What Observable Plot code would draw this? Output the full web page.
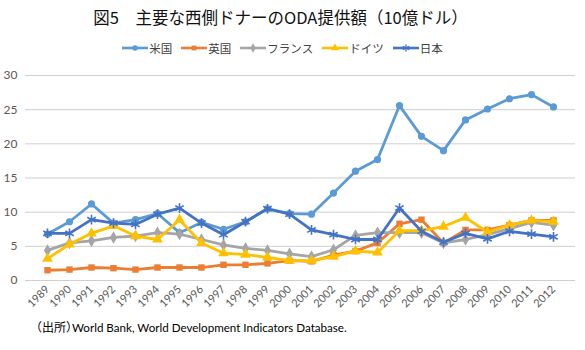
<!DOCTYPE html>
<html><head><meta charset="utf-8">
<script src="https://cdn.jsdelivr.net/npm/d3@7"></script>
<script src="https://cdn.jsdelivr.net/npm/@observablehq/plot@0.6"></script>
<style>
body{margin:0;background:#fff;width:585px;height:350px;overflow:hidden;font-family:"Noto Sans CJK JP",sans-serif;}
#title{height:34px;line-height:34px;text-align:center;font-size:16.5px;color:#111;padding-right:24px;white-space:nowrap}
#legend{height:28px;display:flex;justify-content:center;align-items:center;gap:9px;font-size:11.5px;color:#404040;padding-right:20px}
#legend .item{display:flex;align-items:center}
#legend svg{margin-right:1px}
#caption{height:18px;line-height:18px;font-size:12px;color:#000;padding-left:36px;white-space:nowrap}
#caption .jp{font-feature-settings:"halt";font-size:12px}
#caption .lat{font-family:Lato,sans-serif;font-size:11.6px}
#chart svg{display:block}
</style>
</head><body>
<div id="title">図5　主要な西側ドナーのODA提供額（10億ドル）</div>
<div id="legend"></div>
<div id="chart"></div>
<div id="caption"><span class="jp">（出所）</span><span class="lat">World Bank, World Development Indicators Database.</span></div>
<script>
const years = ["1989","1990","1991","1992","1993","1994","1995","1996","1997","1998","1999","2000","2001","2002","2003","2004","2005","2006","2007","2008","2009","2010","2011","2012"];
const yTicks = [0, 5, 10, 15, 20, 25, 30];
const seriesNames = ["米国", "英国", "フランス", "ドイツ", "日本"];
const us      = [6.8, 8.6, 11.2, 8.4, 8.9, 9.8, 7.0, 8.5, 7.5, 8.6, 10.5, 9.8, 9.7, 12.8, 16.0, 17.7, 25.6, 21.1, 19.0, 23.5, 25.1, 26.6, 27.2, 25.4];
const uk      = [1.5, 1.6, 1.9, 1.8, 1.6, 1.9, 1.9, 1.9, 2.3, 2.3, 2.5, 2.9, 2.8, 3.7, 4.3, 5.5, 8.3, 8.9, 5.5, 7.4, 7.4, 8.1, 8.8, 8.8];
const france  = [4.4, 5.5, 5.8, 6.3, 6.5, 7.0, 6.8, 6.0, 5.2, 4.7, 4.4, 3.9, 3.5, 4.5, 6.6, 7.0, 7.0, 7.0, 5.5, 6.0, 6.7, 7.6, 8.5, 8.1];
const germany = [3.2, 5.3, 6.9, 8.0, 6.5, 6.0, 8.9, 5.5, 4.0, 3.8, 3.4, 2.9, 2.9, 3.5, 4.3, 4.1, 7.3, 7.3, 7.9, 9.2, 7.1, 8.1, 8.8, 8.6];
const japan   = [6.9, 6.9, 8.9, 8.4, 8.2, 9.7, 10.6, 8.4, 6.7, 8.6, 10.5, 9.7, 7.4, 6.7, 6.0, 6.0, 10.6, 7.2, 5.6, 6.9, 6.1, 7.2, 6.8, 6.4];

const values = [us, uk, france, germany, japan];
const styles = [
  {color:"#5B9BD5", symbol:"circle", r:3.6, filled:true},
  {color:"#ED7D31", symbol:"square", r:3.6, filled:true},
  {color:"#A5A5A5", symbol:"diamond", r:3.8, filled:true},
  {color:"#FFC000", symbol:"triangle", r:4.0, filled:true},
  {color:"#4472C4", symbol:"asterisk", r:4.6, filled:false}
];

// legend
const leg = document.getElementById("legend");
const symMap = {circle:d3.symbolCircle, square:d3.symbolSquare, diamond:d3.symbolDiamond, triangle:d3.symbolTriangle, asterisk:d3.symbolAsterisk};
seriesNames.forEach((name, i) => {
  const s = styles[i];
  const item = document.createElement("div");
  item.className = "item";
  const path = d3.symbol(symMap[s.symbol], s.r * s.r * Math.PI * 0.55)();
  item.innerHTML = `<svg width="26" height="10"><line x1="0" x2="26" y1="5" y2="5" stroke="${s.color}" stroke-width="2.6"/><path transform="translate(13,5)" d="${path}" fill="${s.filled ? s.color : "none"}" stroke="${s.filled ? "none" : s.color}" stroke-width="1.2"/></svg><span>${name}</span>`;
  leg.appendChild(item);
});

const marks = [
  Plot.ruleY(yTicks, {stroke:"#cfcfcf", strokeWidth:1}),
  Plot.axisY({ticks: yTicks, tickSize:0, tickPadding:8, fontSize:12}),
  Plot.axisX({tickRotate:-45, tickSize:0, tickPadding:7, fontSize:11})
];
seriesNames.forEach((name, i) => {
  const s = styles[i];
  const rows = years.map((y, j) => ({year:y, value:values[i][j], name}));
  marks.push(Plot.line(rows, {x:"year", y:"value", stroke:s.color, strokeWidth:2.8, strokeLinejoin:"round", curve:"linear"}));
  marks.push(Plot.dot(rows, {x:"year", y:"value", symbol:()=>s.symbol, r:s.r,
    fill: s.filled ? s.color : "none", stroke: s.filled ? "none" : s.color, strokeWidth: s.filled ? 0 : 1.6}));
});

const chart = Plot.plot({
  width:585, height:256,
  marginTop:13, marginBottom:38, marginLeft:25, marginRight:10,
  x:{type:"point", domain:years, padding:0.5, label:null},
  y:{domain:[0,30], label:null},
  symbol:{type:"identity"},
  style:{fontFamily:"Lato, sans-serif", color:"#595959", background:"#fff"},
  marks
});
document.getElementById("chart").appendChild(chart);
</script>
</body></html>
